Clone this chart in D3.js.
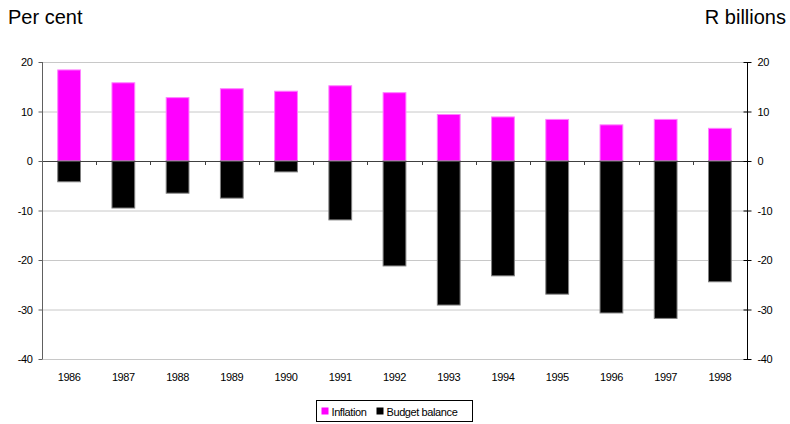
<!DOCTYPE html>
<html>
<head>
<meta charset="utf-8">
<script src="https://cdn.jsdelivr.net/npm/d3@7"></script>
<style>
  body { margin: 0; background: #fff; }
  .tick text, .lab { font-family: "Liberation Sans", Arial, sans-serif; font-size: 11px; letter-spacing: -0.4px; fill: #000; }
  .title { font-family: "Liberation Sans", Arial, sans-serif; font-size: 20px; fill: #000; }
</style>
</head>
<body>
<svg width="790" height="424"></svg>
<script>
var years = ["1986", "1987", "1988", "1989", "1990", "1991", "1992", "1993", "1994", "1995", "1996", "1997", "1998"];
var inflation = [18.4, 15.8, 12.8, 14.6, 14.1, 15.2, 13.8, 9.4, 8.9, 8.4, 7.3, 8.4, 6.6];
var budget = [-4.2, -9.5, -6.5, -7.5, -2.2, -11.9, -21.2, -29.1, -23.2, -26.9, -30.7, -31.8, -24.4];
var yTicks = [20, 10, 0, -10, -20, -30, -40];

var svg = d3.select("svg"),
  margin = {top: 62, right: 43, bottom: 65, left: 42},
  width = svg.attr("width") - margin.left - margin.right,
  height = svg.attr("height") - margin.top - margin.bottom,
  g = svg.append("g").attr("transform", "translate(" + margin.left + "," + margin.top + ")");

var x = d3.scaleBand().domain(years).range([0, width]).paddingInner(0.58).paddingOuter(0.29),
  y = d3.scaleLinear().domain([-40, 20]).range([height, 0]);

// plain hyphen minus, like the original
var fmt = function(d) { return String(d); };

// gridlines
g.append("g").selectAll("line")
  .data(yTicks)
  .enter().append("line")
  .attr("x1", 0).attr("x2", width)
  .attr("y1", function(d) { return y(d) + 0.5; })
  .attr("y2", function(d) { return y(d) + 0.5; })
  .attr("stroke", "#c8c8c8");

// bars
g.append("g").selectAll("rect")
  .data(inflation)
  .enter().append("rect")
  .attr("x", function(d, i) { return x(years[i]); })
  .attr("width", x.bandwidth())
  .attr("y", function(d) { return y(d); })
  .attr("height", function(d) { return y(0) - y(d); })
  .attr("fill", "#ff00ff")
  .attr("stroke", "#ff80ff");

g.append("g").selectAll("rect")
  .data(budget)
  .enter().append("rect")
  .attr("x", function(d, i) { return x(years[i]); })
  .attr("width", x.bandwidth())
  .attr("y", y(0))
  .attr("height", function(d) { return y(d) - y(0); })
  .attr("fill", "#000")
  .attr("stroke", "#808080");

// zero line with category ticks
g.append("line")
  .attr("x1", 0).attr("x2", width)
  .attr("y1", y(0) + 0.5).attr("y2", y(0) + 0.5)
  .attr("stroke", "#404040");

var gap = (x.step() - x.bandwidth()) / 2;
g.append("g").selectAll("line")
  .data(years.slice(1))
  .enter().append("line")
  .attr("x1", function(d) { return Math.round(x(d) - gap) + 0.5; })
  .attr("x2", function(d) { return Math.round(x(d) - gap) + 0.5; })
  .attr("y1", y(0)).attr("y2", y(0) + 4)
  .attr("stroke", "#404040");

// left axis
var left = g.append("g")
  .attr("transform", "translate(0.5,0)")
  .call(d3.axisLeft(y).tickValues(yTicks).tickFormat(fmt).tickSize(4).tickPadding(6));
left.select(".domain").attr("stroke", "#606060").attr("d", "M0," + y(20) + "V" + y(-40));
left.selectAll(".tick line").attr("stroke", "#606060");

// right axis
var right = g.append("g")
  .attr("transform", "translate(" + (width + 0.5) + ",0)")
  .call(d3.axisRight(y).tickValues(yTicks).tickFormat(fmt).tickSize(4).tickPadding(6));
right.select(".domain").attr("stroke", "#000").attr("d", "M0," + y(20) + "V" + y(-40));
right.selectAll(".tick line").attr("stroke", "#000").attr("x1", -4);

// x labels
g.append("g").selectAll("text")
  .data(years)
  .enter().append("text")
  .attr("class", "lab")
  .attr("x", function(d) { return x(d) + x.bandwidth() / 2; })
  .attr("y", height + 22)
  .attr("text-anchor", "middle")
  .text(function(d) { return d; });

// titles
svg.append("text").attr("class", "title").attr("x", 8).attr("y", 24).text("Per cent");
svg.append("text").attr("class", "title").attr("x", 786).attr("y", 24).attr("text-anchor", "end").text("R billions");

// legend
var legend = svg.append("g").attr("transform", "translate(316.5,400.5)");
legend.append("rect").attr("width", 156).attr("height", 21).attr("fill", "#fff").attr("stroke", "#000");
var items = [{name: "Inflation", color: "#ff00ff", x: 5}, {name: "Budget balance", color: "#000", x: 60}];
items.forEach(function(it) {
  legend.append("rect").attr("x", it.x).attr("y", 7).attr("width", 7).attr("height", 7).attr("fill", it.color);
  legend.append("text").attr("class", "lab").attr("x", it.x + 10).attr("y", 15).text(it.name);
});
</script>
</body>
</html>
